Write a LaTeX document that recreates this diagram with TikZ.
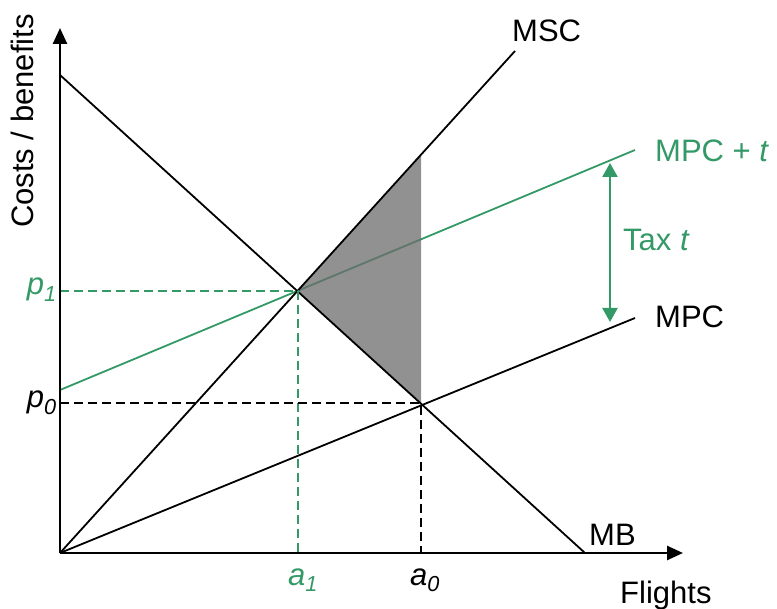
\documentclass[tikz,border=0pt]{standalone}
\usepackage{fontspec}
\setmainfont{Liberation Sans}
\usetikzlibrary{arrows.meta,positioning}
\definecolor{taxgreen}{HTML}{339966}
\definecolor{lossgrey}{HTML}{6C6C6C}

\begin{document}
\begin{tikzpicture}[x=1pt,y=-1pt,
  axis/.style={line width=2.6pt,-{Triangle[length=16pt,width=14pt]}},
  curve/.style={line width=1.8pt},
  guide/.style={line width=1.8pt,dash pattern=on 9pt off 5pt},
  lbl/.style={font=\fontsize{31}{37}\selectfont,inner sep=0pt}]
\useasboundingbox (0,0) rectangle (777,609);
% points of the graph
\coordinate (O) at (60,553);
\coordinate (ytop) at (60,28);
\coordinate (xend) at (683,553);
\coordinate (mbtop) at (60,75);
\coordinate (mbend) at (585,553);
\coordinate (mscend) at (515,51);
\coordinate (mpcend) at (635,318);
\coordinate (taxstart) at (60,390);
\coordinate (taxend) at (635,150);
\coordinate (e1) at (298,291);
\coordinate (e0) at (421,403);
\coordinate (dwltop) at (421,154);
\coordinate (taxhi) at (610,163);
\coordinate (taxlo) at (610,322);

% taxed supply and deadweight loss
\draw[curve,taxgreen] (taxstart) -- (taxend);
\fill[lossgrey,fill opacity=0.75] (e1) -- (dwltop) -- (e0) -- cycle;

% curves
\draw[curve] (mbtop) -- (mbend);
\draw[curve] (O) -- (mscend);
\draw[curve] (O) -- (mpcend);

% guides
\draw[guide,taxgreen] (O |- e1) -- (e1) -- (e1 |- O);
\draw[guide] (O |- e0) -- (e0) -- (e0 |- O);

% axes
\draw[axis] (O) -- (ytop);
\draw[axis] (O) -- (xend);

% tax arrow
\draw[line width=2.4pt,taxgreen,{Triangle[length=14pt,width=15pt]}-{Triangle[length=14pt,width=15pt]}] (taxhi) -- (taxlo);

% labels
\node[lbl,anchor=base west] (msc) at (512,42) {MSC};
\node[lbl,anchor=base west,text=taxgreen] (mpct) at (655,162) {MPC +~\textit{t}};
\node[lbl,anchor=base west,text=taxgreen] (tax) at (623,251) {Tax \textit{t}};
\node[lbl,anchor=base west] (mpc) at (655,328) {MPC};
\node[lbl,anchor=base west] (mb) at (589,546) {MB};
\node[lbl,anchor=base west] (flights) at (620,603) {Flights};
\node[lbl,anchor=base,text=taxgreen] (a1) at (303,585) {\textit{a\textsubscript{1}}};
\node[lbl,anchor=base] (a0) at (425,585) {\textit{a\textsubscript{0}}};
\node[lbl,anchor=base east,text=taxgreen] (p1) at (57,295) {\textit{p\textsubscript{1}}};
\node[lbl,anchor=base east] (p0) at (57,408) {\textit{p\textsubscript{0}}};
\node[lbl,anchor=base,rotate=90] (ylab) at (33,121) {Costs / benefits};
\end{tikzpicture}
\end{document}
